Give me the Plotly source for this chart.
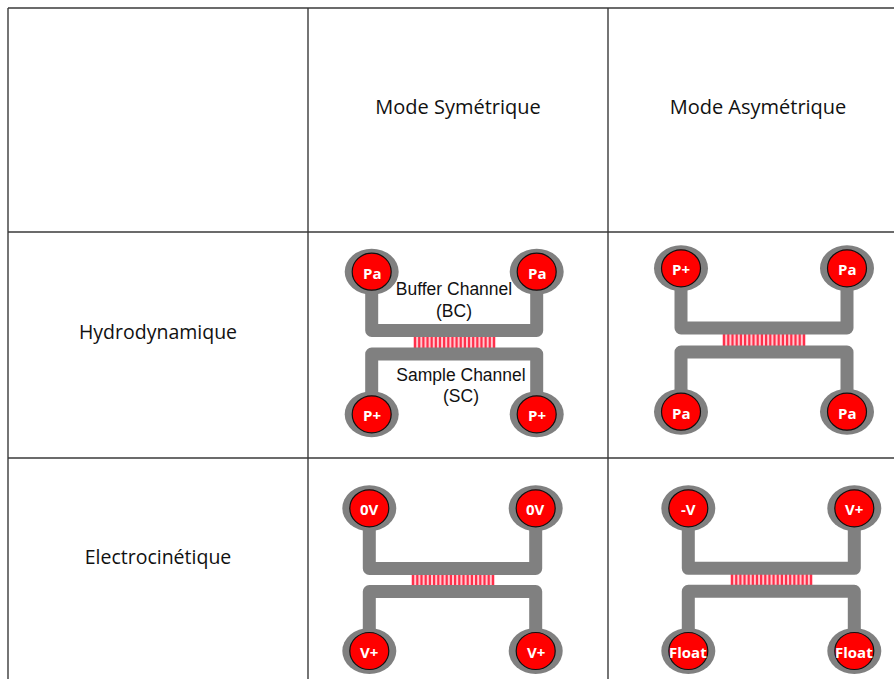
import plotly.graph_objects as go

# Table structure, in picture pixels
grid_x = [8, 308, 608]
grid_y = [8, 232, 458]
right_edge, bottom_edge = 894, 679
col_titles = ["Mode Symétrique", "Mode Asymétrique"]
col_title_x = [458, 758]
col_title_y = [109, 109]
row_titles = ["Hydrodynamique", "Electrocinétique"]
row_title_x = [158, 158]
row_title_y = [334, 559]

# Chips: left/right port x, top/bottom port y, port labels (TL, TR, BL, BR)
chip_left = [371.7, 681, 369.3, 688.3]
chip_right = [536.7, 847, 535.7, 854.3]
chip_top = [271.7, 268.3, 508.3, 508.3]
chip_bottom = [414.3, 411.7, 651, 651]
chip_labels = [
    ["Pa", "Pa", "P+", "P+"],
    ["P+", "Pa", "Pa", "Pa"],
    ["0V", "0V", "V+", "V+"],
    ["-V", "V+", "Float", "Float"],
]
chip_bar_top = [330.5, 328, 568.5, 568.3]
chip_bar_bot = [354, 352, 591.5, 591.3]
chip_red_x0 = [413, 722, 411, 730]
chip_red_x1 = [496, 806, 495, 813]
stripe_count = 20

notes = ["Buffer Channel", "(BC)", "Sample Channel", "(SC)"]
note_x = [454, 454, 461, 461]
note_y = [291, 313, 377, 398]

GREY = "#808080"
LINE = "#3a3a3a"
RED = "#ff0000"
UI = "Open Sans"

fig = go.Figure()
shapes = []
annotations = []

# Grid
for x in grid_x:
    fig.add_trace(go.Scatter(x=[x, x], y=[grid_y[0], bottom_edge], mode="lines",
                             line=dict(color=LINE, width=1.4), hoverinfo="skip"))
for y in grid_y:
    fig.add_trace(go.Scatter(x=[grid_x[0], right_edge], y=[y, y], mode="lines",
                             line=dict(color=LINE, width=1.4), hoverinfo="skip"))

for i in range(4):
    L, R, T, B = chip_left[i], chip_right[i], chip_top[i], chip_bottom[i]
    bt, bb = chip_bar_top[i], chip_bar_bot[i]
    # red stripes in the junction
    x0, x1 = chip_red_x0[i], chip_red_x1[i]
    fig.add_trace(go.Scatter(x=[x0, x1, x1, x0, x0], y=[bt, bt, bb, bb, bt], mode="lines",
                             fill="toself", fillcolor="#ffc8d0", line=dict(width=0),
                             hoverinfo="skip"))
    sx, sy = [], []
    for k in range(stripe_count):
        xs = x0 + (x1 - x0) * (k + 0.5) / stripe_count
        sx += [xs, xs, None]
        sy += [bt, bb, None]
    fig.add_trace(go.Scatter(x=sx, y=sy, mode="lines",
                             line=dict(color="rgba(255,20,50,0.85)", width=2.2), hoverinfo="skip"))
    # channels
    for bar, end in ((bt, T), (bb, B)):
        fig.add_trace(go.Scatter(x=[L, L, R, R], y=[end, bar, bar, end], mode="lines",
                                 line=dict(color=GREY, width=13), hoverinfo="skip"))
    # ports
    ports = [(L, T), (R, T), (L, B), (R, B)]
    for (px, py), lab in zip(ports, chip_labels[i]):
        shapes.append(dict(type="circle", xref="x", yref="y", x0=px-27, x1=px+27, y0=py-23, y1=py+23,
                           fillcolor=GREY, line=dict(width=0)))
        shapes.append(dict(type="circle", xref="x", yref="y", x0=px-19.5, x1=px+19.5, y0=py-18.5, y1=py+18.5,
                           fillcolor=RED, line=dict(color="#101010", width=1.2)))
        annotations.append(dict(x=px, y=py + 1, xref="x", yref="y", text=lab, showarrow=False,
                                xanchor="center", yanchor="middle",
                                font=dict(family=UI, size=15, color="white", weight="bold")))

fig.add_trace(go.Scatter(x=col_title_x, y=col_title_y, mode="text", text=col_titles, hoverinfo="skip",
                         textfont=dict(family=UI, size=20, color="#111111")))
fig.add_trace(go.Scatter(x=row_title_x, y=row_title_y, mode="text", text=row_titles, hoverinfo="skip",
                         textfont=dict(family=UI, size=19.5, color="#111111")))
fig.add_trace(go.Scatter(x=note_x, y=note_y, mode="text", text=notes, hoverinfo="skip",
                         textfont=dict(family="Liberation Sans", size=17.5, color="#111111")))

fig.update_layout(
    width=894, height=679, margin=dict(l=0, r=0, t=0, b=0), showlegend=False,
    paper_bgcolor="white", plot_bgcolor="white", shapes=shapes, annotations=annotations,
    xaxis=dict(range=[0, 894], visible=False, fixedrange=True),
    yaxis=dict(range=[679, 0], visible=False, fixedrange=True),
)
fig.write_html("out.html", config=dict(displayModeBar=False),
               post_script="document.body.style.margin='0';document.body.style.overflow='hidden';"
                           "document.querySelectorAll('.js-line').forEach(p=>p.style.strokeLinejoin='round');")
